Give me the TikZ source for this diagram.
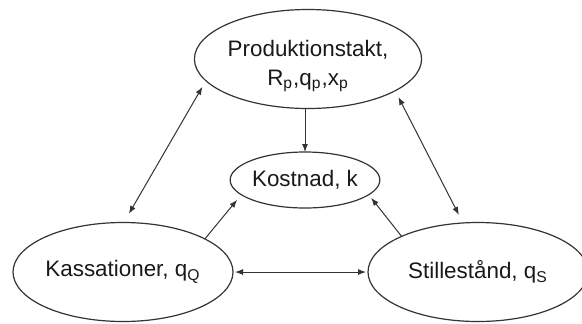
\documentclass[tikz,border=0pt]{standalone}
\usepackage{fontspec}
\setmainfont{Liberation Sans}
\usetikzlibrary{shapes.geometric,arrows.meta}
\begin{document}
\begin{tikzpicture}[x=0.5pt,y=-0.5pt,
  oval/.style={ellipse,draw=black!80,line width=0.6pt,inner sep=0pt,outer sep=0pt,
    text=black!90,font=\fontsize{11.2}{14.6}\selectfont},
  tip/.style={Latex[length=4pt,width=3pt]},
  conn/.style={draw=black!80,line width=0.5pt,-{Latex[length=4pt,width=3pt]}},
  biconn/.style={draw=black!80,line width=0.5pt,{Latex[length=4pt,width=3pt]}-{Latex[length=4pt,width=3pt]}}]
\useasboundingbox (0,0) rectangle (582,323);
\node[oval,minimum width=111pt,minimum height=49.5pt] (top) at (308,59)
  {\raisebox{-3pt}[\height][\depth]{\begin{tabular}{@{}c@{}}Produktionstakt,\\R\textsubscript{p},q\textsubscript{p},x\textsubscript{p}\end{tabular}}};
\node[oval,minimum width=72pt,minimum height=28pt] (kost) at (305,180) {Kostnad, k};
\node[oval,minimum width=110pt,minimum height=49.5pt] (kass) at (123,272) {Kassationer, q\textsubscript{Q}};
\node[oval,minimum width=110pt,minimum height=49.5pt] (still) at (478,272) {Stillestånd, q\textsubscript{S}};
% connectors
\draw[conn] (kost.north |- top.south) -- (kost.north);
\draw[biconn,shorten <=5pt,shorten >=3.5pt] (kass.89) -- (top.192.6);
\draw[biconn,shorten <=4.5pt,shorten >=3.5pt] (still.107.4) -- (top.340.6);
\draw[conn,shorten >=3.3pt] (kass.22.9) -- (kost.193.3);
\draw[conn,shorten >=2pt] (still.155) -- (kost.347.9);
\draw[biconn,shorten <=1pt,shorten >=1pt] (kass.east) -- (still.west);
\end{tikzpicture}
\end{document}
